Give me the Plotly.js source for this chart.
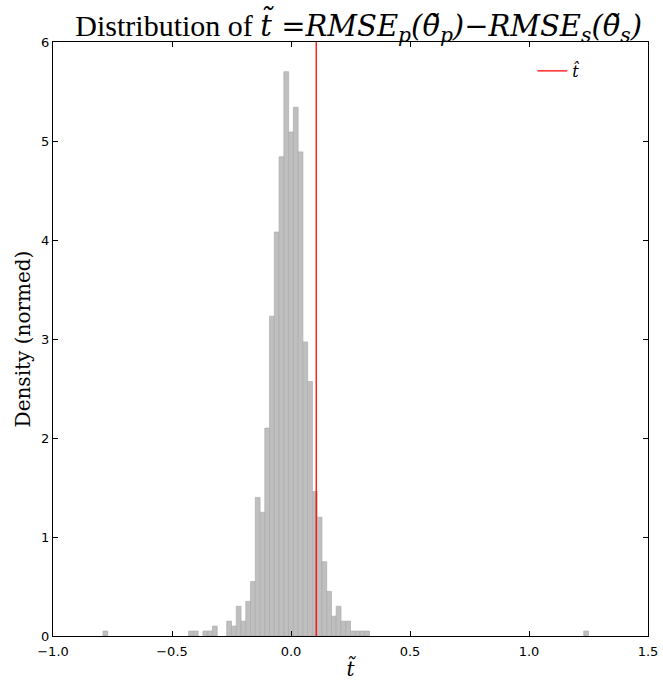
<!DOCTYPE html>
<html>
<head>
<meta charset="utf-8">
<script src="https://cdn.plot.ly/plotly-3.0.1.min.js"></script>
<style>html,body{margin:0;padding:0;background:#fff;}#chart{width:663px;height:681px;}</style>
</head>
<body>
<div id="chart"></div>
<script>
// Histogram bins (width 0.02), centers of non-empty bins and normed densities
var binWidth = 0.02;
var binCenters = [-0.78, -0.42, -0.40, -0.36, -0.34, -0.32, -0.26, -0.24, -0.22, -0.20,
                  -0.18, -0.16, -0.14, -0.12, -0.10, -0.08, -0.06, -0.04, -0.02, 0.00,
                   0.02,  0.04,  0.06,  0.08,  0.10,  0.12,  0.14,  0.16,  0.18,  0.20,
                   0.22,  0.24,  0.26,  0.28,  0.30,  0.32,  1.24];
var densities  = [0.05, 0.05, 0.05, 0.05, 0.05, 0.10, 0.15, 0.10, 0.30, 0.15,
                  0.35, 0.55, 1.40, 1.25, 2.10, 3.23, 4.08, 4.84, 5.70, 5.09,
                  5.34, 4.89, 2.97, 2.57, 1.46, 1.20, 0.75, 0.45, 0.20, 0.30,
                  0.15, 0.15, 0.05, 0.05, 0.05, 0.05, 0.05];
var tHat = 0.106;
var lineY = [0, 6];
var xTicks = [-1.0, -0.5, 0.0, 0.5, 1.0, 1.5];
var yTicks = [0, 1, 2, 3, 4, 5, 6];

var bars = {
  type: 'bar',
  x: binCenters,
  y: densities,
  width: binWidth,
  marker: {color: 'rgb(191,191,191)', line: {color: 'rgb(172,172,172)', width: 0.7}},
  showlegend: false,
  hoverinfo: 'x+y'
};
var tLine = {
  type: 'scatter',
  mode: 'lines',
  x: [tHat, tHat],
  y: lineY,
  line: {color: 'rgb(255,0,0)', width: 1.3},
  name: '<i>t̂</i>'
};

var mathStyle = 'font-family:\'DejaVu Serif\';font-style:italic;font-size:29px';
var titleText = 'Distribution of <span style="' + mathStyle + '">t̃ =RMSE<sub>p</sub>(θ̃<sub>p</sub>)−RMSE<sub>s</sub>(θ̃<sub>s</sub>)</span>';

var layout = {
  width: 663, height: 681,
  margin: {l: 53, r: 15, t: 42, b: 45},
  paper_bgcolor: '#fff', plot_bgcolor: '#fff',
  bargap: 0,
  title: {
    text: titleText,
    font: {family: 'Liberation Serif, serif', size: 30, color: '#000'},
    x: 0.541, xanchor: 'center',
    y: 0.963, yref: 'container', yanchor: 'middle'
  },
  xaxis: {
    range: [-1.0, 1.5],
    tickvals: xTicks,
    ticktext: xTicks.map(function(v){ return (v < 0 ? '\u2212' : '') + Math.abs(v).toFixed(1); }),
    ticks: 'inside', ticklen: 5, tickcolor: '#000', tickwidth: 1,
    showline: true, linecolor: '#000', linewidth: 1, mirror: 'allticks',
    showgrid: false, zeroline: false,
    ticklabelstandoff: 3,
    tickfont: {family: 'DejaVu Sans', size: 13, color: '#000'},
    title: {text: '<i>t̃</i>', font: {family: 'DejaVu Serif', size: 20, color: '#000'}, standoff: 7}
  },
  yaxis: {
    range: [0, 6],
    tickvals: yTicks,
    ticks: 'inside', ticklen: 5, tickcolor: '#000', tickwidth: 1,
    showline: true, linecolor: '#000', linewidth: 1, mirror: 'allticks',
    showgrid: false, zeroline: false,
    tickfont: {family: 'DejaVu Sans', size: 13, color: '#000'},
    title: {text: 'Density (normed)', font: {family: 'DejaVu Serif', size: 20, color: '#000'}, standoff: 5}
  },
  legend: {
    x: 0.893, xanchor: 'right', y: 0.98, yanchor: 'top',
    bgcolor: 'rgba(0,0,0,0)', borderwidth: 0,
    font: {family: 'DejaVu Serif', size: 16, color: '#000'},
    itemwidth: 30
  }
};

Plotly.newPlot('chart', [bars, tLine], layout, {displayModeBar: false, staticPlot: true});
</script>
</body>
</html>
